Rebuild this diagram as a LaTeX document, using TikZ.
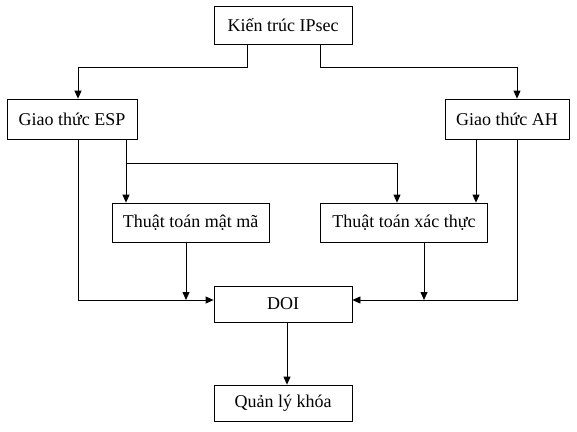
\documentclass[tikz,border=0pt]{standalone}
\usepackage{fontspec}
\setmainfont{Liberation Serif}
\newfontfamily\boxfont{Liberation Serif}
\usetikzlibrary{arrows.meta}
\begin{document}
\begin{tikzpicture}%
	[x={(1pt,0pt)},
	y={(0pt,-1pt)},
	every node/.style={font=\boxfont\fontsize{18}{22}\selectfont},
	box/.style={draw=black, line width=0.8pt, rectangle, inner sep=0pt},
	edge/.style={color=black, line width=0.8pt, -{Triangle[length=8pt,width=7pt]}},
	line/.style={color=black, line width=0.8pt}]
%
\useasboundingbox (0,0) rectangle (577,431);
%
%% Coordinates of the bends:
%%
\coordinate (kleft) at (247,67);
\coordinate (espin) at (78,67);
\coordinate (kright) at (320,67);
\coordinate (ahin) at (517,67);
\coordinate (espmid) at (126,163);
\coordinate (xacin) at (397,163);
\coordinate (ahmid) at (476,163);
\coordinate (ahout) at (517,300);
\coordinate (espout) at (78,300);
\coordinate (matout) at (186,300);
\coordinate (xacout) at (424,300);
\coordinate (doiout) at (287,350);
%%
%%
%% Drawing the boxes
%%
\node[box, minimum width=138, minimum height=38] (kientruc) at (283,25) {Kiến trúc IPsec};
\node[box, minimum width=130, minimum height=40] (esp) at (72,119) {Giao thức ESP};
\node[box, minimum width=124, minimum height=40] (ah) at (507,119) {Giao thức AH};
\node[box, minimum width=157, minimum height=39] (matma) at (190.5,222.5) {Thuật toán mật mã};
\node[box, minimum width=167, minimum height=39] (xacthuc) at (404,222.5) {Thuật toán xác thực};
\node[box, minimum width=138, minimum height=36] (doi) at (283,304) {DOI};
\node[box, minimum width=138, minimum height=36] (quanly) at (283,403) {Quản lý khóa};
%%
%%
%% Drawing the edges
%%
\draw[edge] (kientruc.south -| kleft) |- (espin) -- (esp.north -| espin);
\draw[edge] (kientruc.south -| kright) |- (ahin) -- (ah.north -| ahin);
\draw[edge] (esp.south -| espmid) -- (matma.north -| espmid);
\draw[edge] (espmid) -| (xacthuc.north -| xacin);
\draw[edge] (ah.south -| ahmid) -- (xacthuc.north -| ahmid);
\draw[edge] (ah.south -| ahout) |- (doi.east |- ahout);
\draw[edge] (esp.south -| espout) |- (doi.west |- espout);
\draw[edge] (matma.south -| matout) -- (matout);
\draw[edge] (xacthuc.south -| xacout) -- (xacout);
\draw[edge] (doi.south -| doiout) -- (quanly.north -| doiout);
%%
%%
\end{tikzpicture}
\end{document}
